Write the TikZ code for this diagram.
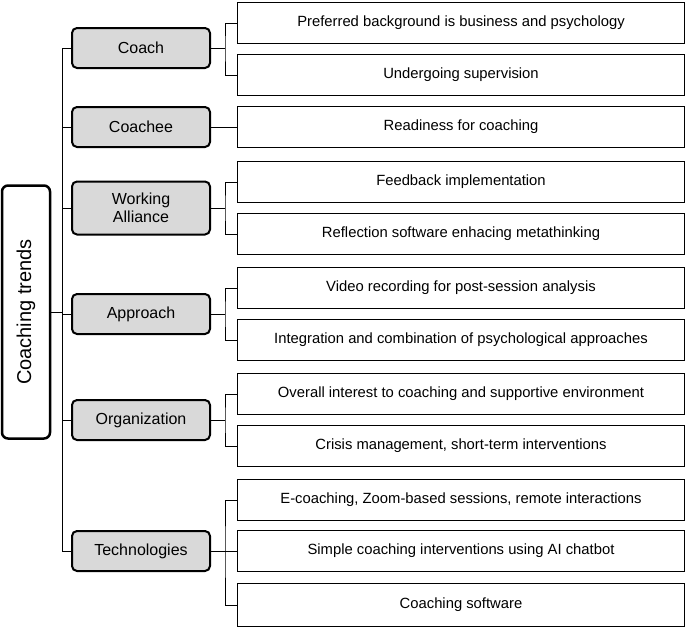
\documentclass[tikz,border=0pt]{standalone}
\usepackage{fontspec}
\setmainfont{Liberation Sans}
\begin{document}
\tikzset{
  cat/.style={draw, line width=2pt, rounded corners=5pt, fill=gray!30, minimum width=138pt, minimum height=40pt, align=center, font=\fontsize{16}{18}\selectfont},
  leaf/.style={draw, line width=0.8pt, minimum width=447pt, minimum height=41pt, font=\fontsize{14.8}{17}\selectfont},
  link/.style={line width=0.8pt}
}
\begin{tikzpicture}[x=1pt,y=-1pt]
\useasboundingbox (0,0) rectangle (685,629);

% Root
\node[draw, line width=2.5pt, rounded corners=6pt, rotate=90, minimum width=253pt, minimum height=48pt, font=\fontsize{20}{22}\selectfont] (root) at (26,312) {Coaching trends};

% Categories
\node[cat] (coach) at (141,48) {Coach};
\node[cat] (coachee) at (141,127) {Coachee};
\node[cat, minimum height=53pt] (alliance) at (141,208) {Working\\Alliance};
\node[cat] (approach) at (141,314) {Approach};
\node[cat] (org) at (141,420) {Organization};
\node[cat] (tech) at (141,551) {Technologies};

% Leaves
\node[leaf] (l1) at (461,23) {Preferred background is business and psychology};
\node[leaf] (l2) at (461,75) {Undergoing supervision};
\node[leaf] (l3) at (461,127) {Readiness for coaching};
\node[leaf] (l4) at (461,182) {Feedback implementation};
\node[leaf] (l5) at (461,234) {Reflection software enhacing metathinking};
\node[leaf] (l6) at (461,288) {Video recording for post-session analysis};
\node[leaf] (l7) at (461,340) {Integration and combination of psychological approaches};
\node[leaf] (l8) at (461,394) {Overall interest to coaching and supportive environment};
\node[leaf] (l9) at (461,446) {Crisis management, short-term interventions};
\node[leaf] (l10) at (461,500) {E-coaching, Zoom-based sessions, remote interactions};
\node[leaf] (l11) at (461,551) {Simple coaching interventions using AI chatbot};
\node[leaf, minimum height=43pt] (l12) at (461,605) {Coaching software};

% Trunk
\coordinate (ttop) at (62,48);
\coordinate (tbot) at (62,551);
\draw[link] (root.south) -- (root.south -| ttop);
\draw[link] (ttop) -- (tbot);
\foreach \c in {coach,coachee,alliance,approach,org,tech}
  \draw[link] (\c.west -| ttop) -- (\c.west);

% Branches
\coordinate (bx) at (225,0);
\draw[link] (coach.east) -- (coach.east -| bx);
\draw[link] (l1.west) -| (bx |- coach.east) |- (l2.west);
\draw[link] (coachee.east) -- (l3.west);
\draw[link] (alliance.east) -- (alliance.east -| bx);
\draw[link] (l4.west) -| (bx |- alliance.east) |- (l5.west);
\draw[link] (approach.east) -- (approach.east -| bx);
\draw[link] (l6.west) -| (bx |- approach.east) |- (l7.west);
\draw[link] (org.east) -- (org.east -| bx);
\draw[link] (l8.west) -| (bx |- org.east) |- (l9.west);
\draw[link] (tech.east) -- (l11.west);
\draw[link] (l10.west) -| (bx |- tech.east) |- (l12.west);
\end{tikzpicture}
\end{document}
